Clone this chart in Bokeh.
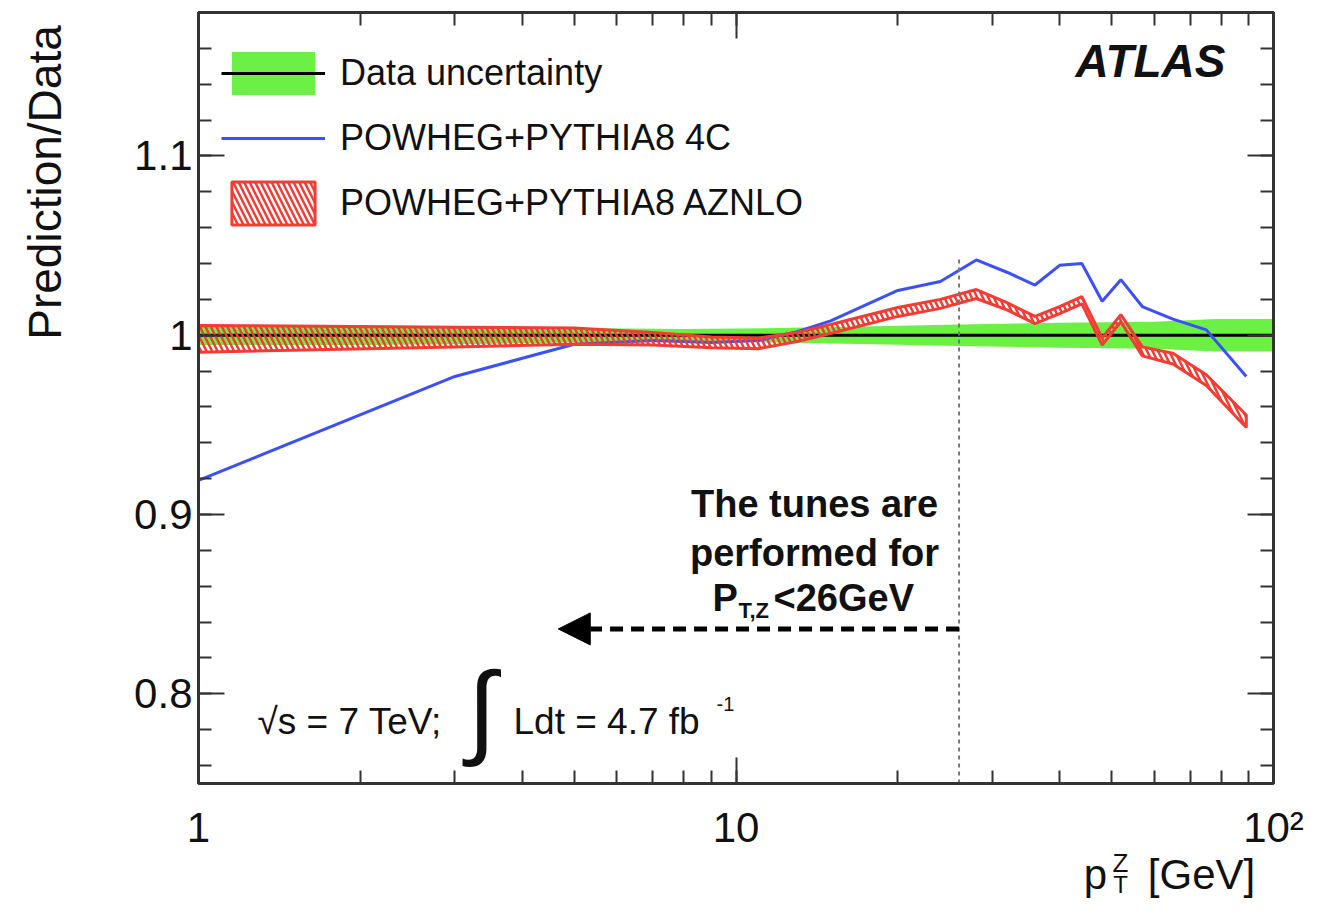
import math
from bokeh.plotting import figure
from bokeh.models import (Range1d, LinearAxis, LogAxis, SingleIntervalTicker, LogTicker, FixedTicker,
                          CustomJSTickFormatter, Label, Legend, LegendItem, Arrow, NormalHead)
from bokeh.embed import file_html
from bokeh.resources import INLINE

FONT = "Liberation Sans"

# ---------------- data ----------------
# pT bin positions [GeV] for the predictions
pt_bins = [1, 3, 5, 7, 9, 11, 13, 15, 20, 24, 28, 32, 36, 40, 44, 48, 52, 57, 65, 75, 89]
# POWHEG+PYTHIA8 4C ratio
ratio_4c = [0.919, 0.977, 0.995, 0.997, 0.996, 0.997, 1.002, 1.008, 1.025, 1.030, 1.042,
            1.035, 1.028, 1.039, 1.040, 1.019, 1.031, 1.016, 1.009, 1.003, 0.977]
# POWHEG+PYTHIA8 AZNLO band (lower / upper edge)
aznlo_lo = [0.9905, 0.9935, 0.995, 0.9945, 0.993, 0.9925, 0.9965, 1.001, 1.0105, 1.015, 1.0205,
            1.014, 1.0065, 1.012, 1.0175, 0.9945, 1.0075, 0.9885, 0.984, 0.972, 0.9485]
aznlo_hi = [1.0055, 1.0045, 1.004, 1.0015, 0.999, 0.9985, 1.0015, 1.006, 1.0155, 1.020, 1.0255,
            1.018, 1.0105, 1.016, 1.0215, 0.9985, 1.0115, 0.9935, 0.990, 0.978, 0.9555]
# data uncertainty band
data_pt = [1, 2, 3, 5, 8, 12, 18, 26, 40, 60, 78, 100]
data_central = [1.0, 1.0, 1.0, 1.0, 1.0, 1.0, 1.0, 1.0, 1.0, 1.0, 1.0, 1.0]
data_lo = [0.9945, 0.9945, 0.995, 0.996, 0.9965, 0.996, 0.995, 0.994, 0.993, 0.9925, 0.991, 0.991]
data_hi = [1.0055, 1.0055, 1.005, 1.004, 1.0035, 1.004, 1.005, 1.006, 1.007, 1.0075, 1.009, 1.009]

TUNE_CUT = 26.0          # GeV, tuning region boundary
TUNE_LINE_TOP = 1.043
ARROW_TIP = 4.67
ARROW_Y = 0.8362

x_ticks_labels = {"1": "1", "10": "10", "100": "10²"}

# ---------------- colours ----------------
GREEN = "#6cf046"
BLUE = "#3c50fa"
RED = "#f23c34"
AXC = "#333333"
TXT = "#111111"

# ---------------- geometry of the frame (page pixels) ----------------
FX0, FX1, FY0, FY1 = 198, 1273, 783, 12   # left, right, bottom, top
YMIN, YMAX = 0.75, 1.18
W, H = 1310, 907

p = figure(width=W, height=H, x_axis_type="log",
           x_range=Range1d(1, 100), y_range=Range1d(YMIN, YMAX),
           output_backend="svg", toolbar_location=None,
           min_border_left=FX0, min_border_right=W - FX1, min_border_top=FY1,
           min_border_bottom=H - FY0)
p.xgrid.visible = False
p.ygrid.visible = False
p.outline_line_color = AXC
p.outline_line_width = 3
p.background_fill_color = "white"
p.border_fill_color = "white"

# data uncertainty
green_r = p.varea(x=data_pt, y1=data_lo, y2=data_hi, fill_color=GREEN, fill_alpha=1.0)
black_r = p.line(x=data_pt, y=data_central, line_color="black", line_width=3)

# 4C
blue_r = p.line(x=pt_bins, y=ratio_4c, line_color=BLUE, line_width=3)

# AZNLO band
band_x = list(pt_bins) + list(reversed(pt_bins))
band_y = list(aznlo_hi) + list(reversed(aznlo_lo))
red_r = p.patch(x=band_x, y=band_y, fill_color=None, line_color=RED, line_width=3,
                hatch_pattern="\\", hatch_color=RED, hatch_weight=2.5, hatch_scale=11)

# tuning boundary
p.line(x=[TUNE_CUT, TUNE_CUT], y=[YMIN, TUNE_LINE_TOP], line_color="#777777",
       line_width=2, line_dash="4 4")
p.add_layout(Arrow(end=NormalHead(size=32, fill_color="black", line_color="black"),
                   x_start=TUNE_CUT, y_start=ARROW_Y, x_end=ARROW_TIP, y_end=ARROW_Y,
                   line_color="black", line_width=5, line_dash="13 8"))

# ---------------- axes ----------------
def style_axis(ax, labels=True):
    ax.axis_line_color = AXC
    ax.axis_line_width = 3
    ax.major_tick_in = 26
    ax.major_tick_out = 0
    ax.minor_tick_in = 13
    ax.minor_tick_out = 0
    ax.major_tick_line_color = AXC
    ax.major_tick_line_width = 2
    ax.minor_tick_line_color = AXC
    ax.minor_tick_line_width = 2
    ax.major_label_text_font = FONT
    if labels:
        ax.major_label_text_font_size = "42px"
        ax.major_label_text_color = TXT
    else:
        ax.major_label_text_font_size = "2px"
        ax.major_label_text_color = None
        ax.major_label_standoff = 0

yfmt = CustomJSTickFormatter(code="return (Math.round(tick*10)/10).toString();")
xfmt = CustomJSTickFormatter(args=dict(labs=x_ticks_labels),
                             code="var k = String(Math.round(tick)); return (k in labs) ? labs[k] : k;")

xax = p.xaxis[0]
xax.ticker = LogTicker(num_minor_ticks=10)
xax.formatter = xfmt
style_axis(xax)
xax.major_label_standoff = 20

yax = p.yaxis[0]
yax.ticker = SingleIntervalTicker(interval=0.1, num_minor_ticks=5)
yax.formatter = yfmt
style_axis(yax)
yax.major_label_standoff = 6

top = LogAxis(ticker=LogTicker(num_minor_ticks=10))
style_axis(top, labels=False)
p.add_layout(top, "above")

right = LinearAxis(ticker=SingleIntervalTicker(interval=0.1, num_minor_ticks=5))
style_axis(right, labels=False)
p.add_layout(right, "right")


def bare_axis(ax, size, standoff):
    ax.axis_line_color = None
    ax.major_tick_line_color = None
    ax.minor_tick_line_color = None
    ax.major_tick_in = 0
    ax.major_tick_out = 0
    ax.minor_tick_in = 0
    ax.minor_tick_out = 0
    ax.major_label_text_font = FONT
    ax.major_label_text_font_size = size
    ax.major_label_text_color = TXT
    ax.major_label_standoff = standoff


# ---- x-axis title "p_T^Z [GeV]" built from label-only axes below the main one ----
def px_to_pt(px):
    return 10 ** ((px - FX0) / ((FX1 - FX0) / 2.0))


def py_to_ratio(py):
    return YMIN + (FY0 - py) / (FY0 - FY1) * (YMAX - YMIN)


def text_axis(texts, centers_px, size, standoff):
    ax = LogAxis(ticker=FixedTicker(ticks=[px_to_pt(c) for c in centers_px]),
                 formatter=CustomJSTickFormatter(args=dict(t=texts), code="return t[index];"))
    bare_axis(ax, size, standoff)
    p.add_layout(ax, "below")


text_axis(["p", "[GeV]"], [1095, 1201], "42px", -3)
text_axis(["T"], [1120], "24px", -30)
text_axis(["Z"], [1120], "26px", -53)

# ---- y-axis title "Prediction/Data" as a vertical label of a bare left axis ----
ytitle = LinearAxis(ticker=FixedTicker(ticks=[py_to_ratio(182)]),
                    formatter=CustomJSTickFormatter(code="return 'Prediction/Data';"))
bare_axis(ytitle, "46px", 61)
ytitle.major_label_orientation = "vertical"
p.add_layout(ytitle, "left")

# ---------------- legend ----------------
legend = Legend(items=[
    LegendItem(label="Data uncertainty", renderers=[green_r, black_r]),
    LegendItem(label="POWHEG+PYTHIA8 4C", renderers=[blue_r]),
    LegendItem(label="POWHEG+PYTHIA8 AZNLO", renderers=[red_r]),
], location=(23, 553), padding=0, margin=0, spacing=11,
   glyph_width=104, glyph_height=54, label_standoff=15,
   label_text_font=FONT, label_text_font_size="36px", label_text_color=TXT,
   border_line_alpha=0, background_fill_alpha=0)
p.add_layout(legend)


# ---------------- texts inside the frame (screen units relative to frame) ----------------
def lab(text, px, py, size_px, style="normal", align="left"):
    # py is the wanted baseline in page pixels; Bokeh draws the baseline ~0.39*size lower
    p.add_layout(Label(x=px - FX0, y=FY0 - (py - 0.39 * size_px), x_units="screen", y_units="screen",
                       text=text, text_font=FONT, text_font_size=f"{size_px}px",
                       text_font_style=style, text_align=align, text_baseline="alphabetic",
                       text_color=TXT))


lab("ATLAS", 1225, 78, 46, style="bold italic", align="right")
lab("√s = 7 TeV;", 257, 735, 37)
p.add_layout(Label(x=467 - FX0, y=FY0 - 708, x_units="screen", y_units="screen", text="∫",
                   text_font=FONT, text_font_size="104px", text_baseline="middle", text_color=TXT))
lab("Ldt = 4.7 fb", 513, 735, 37)
lab("-1", 716, 711, 20)

lab("The tunes are", 814, 518, 38, style="bold", align="center")
lab("performed for", 814, 567, 38, style="bold", align="center")
lab("P", 712, 612, 38, style="bold")
lab("T,Z", 738, 619, 22, style="bold")
lab("<26GeV", 773, 612, 38, style="bold")

open("out.html", "w", encoding="utf-8").write(file_html(p, INLINE))
